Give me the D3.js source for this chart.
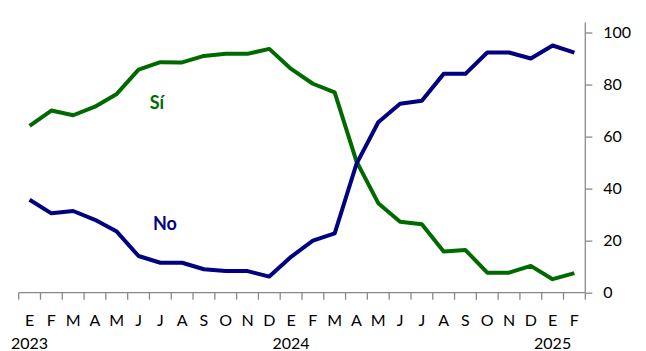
<!DOCTYPE html>
<html><head><meta charset="utf-8">
<script src="https://cdn.jsdelivr.net/npm/d3@7"></script>
<style>html,body{margin:0;padding:0;background:#fff;}svg{display:block;}</style>
</head><body>
<script>
const months = ["E","F","M","A","M","J","J","A","S","O","N","D","E","F","M","A","M","J","J","A","S","O","N","D","E","F"];
const years = [{idx:0,label:"2023"},{idx:12,label:"2024"},{idx:24,label:"2025"}];
const si = [64.1,70.0,68.2,71.5,76.4,85.7,88.6,88.5,91.0,91.8,91.8,93.7,86.0,80.3,77.0,50.5,34.4,27.3,26.3,15.8,16.4,7.7,7.7,10.3,5.2,7.5];
const no = [35.7,30.5,31.4,28.0,23.5,14.1,11.5,11.5,9.0,8.3,8.3,6.2,13.8,20.0,22.8,49.5,65.5,72.6,73.8,84.1,84.1,92.3,92.3,90.0,95.0,92.3];
const yTicks = [0,20,40,60,80,100];

const W=646,H=351;
const svg=d3.select("body").append("svg").attr("width",W).attr("height",H);
const x0=18.7,x1=585.3,yBottom=292.7,yTop100=32.5;
const idx=d3.range(months.length);
const x=d3.scaleBand().domain(idx).range([x0,x1]).padding(0);
const y=d3.scaleLinear().domain([0,100]).range([yBottom,yTop100]);
const axisColor="#898989";
const font="Lato, 'Open Sans', sans-serif";

// y axis (right)
const yAxis=svg.append("g").attr("transform",`translate(${x1},0)`)
  .call(d3.axisRight(y).tickValues(yTicks).tickSize(7).tickPadding(11).tickSizeOuter(0));
yAxis.select(".domain").remove();
yAxis.append("line").attr("x1",0).attr("x2",0).attr("y1",22.5).attr("y2",yBottom).attr("stroke",axisColor).attr("stroke-width",1.3);
yAxis.selectAll(".tick line").attr("stroke",axisColor).attr("stroke-width",1.3);
yAxis.selectAll(".tick text").attr("fill","#000").style("font-family",font).style("font-size","16px");

// x axis
const gx=svg.append("g");
gx.append("line").attr("x1",x0).attr("x2",x1).attr("y1",yBottom).attr("y2",yBottom).attr("stroke",axisColor).attr("stroke-width",1.3);
const bounds=idx.map(i=>x(i)).concat([x1]);
gx.selectAll("line.t").data(bounds).enter().append("line").attr("class","t")
  .attr("x1",d=>d).attr("x2",d=>d).attr("y1",yBottom).attr("y2",yBottom+7)
  .attr("stroke",axisColor).attr("stroke-width",1.3);
gx.selectAll("text.m").data(months).enter().append("text").attr("class","m")
  .attr("x",(d,i)=>x(i)+x.bandwidth()/2).attr("y",326).attr("text-anchor","middle")
  .style("font-family",font).style("font-size","16px").attr("fill","#000").text(d=>d);
gx.selectAll("text.y").data(years).enter().append("text").attr("class","y")
  .attr("x",d=>x(d.idx)+x.bandwidth()/2).attr("y",349).attr("text-anchor","middle")
  .style("font-family",font).style("font-size","16px").attr("fill","#000").text(d=>d.label);

const line=d3.line().x((d,i)=>x(i)+x.bandwidth()/2).y(d=>y(d));
svg.append("path").datum(si).attr("d",line).attr("fill","none").attr("stroke","#006a00").attr("stroke-width",4).attr("stroke-linejoin","round");
svg.append("path").datum(no).attr("d",line).attr("fill","none").attr("stroke","#000080").attr("stroke-width",4).attr("stroke-linejoin","round");

svg.append("text").attr("x",157).attr("y",109).attr("text-anchor","middle").style("font-family",font).style("font-weight","bold").style("font-size","18px").attr("fill","#006a00").text("Sí");
svg.append("text").attr("x",165).attr("y",230).attr("text-anchor","middle").style("font-family",font).style("font-weight","bold").style("font-size","18px").attr("fill","#000080").text("No");
</script>
</body></html>
